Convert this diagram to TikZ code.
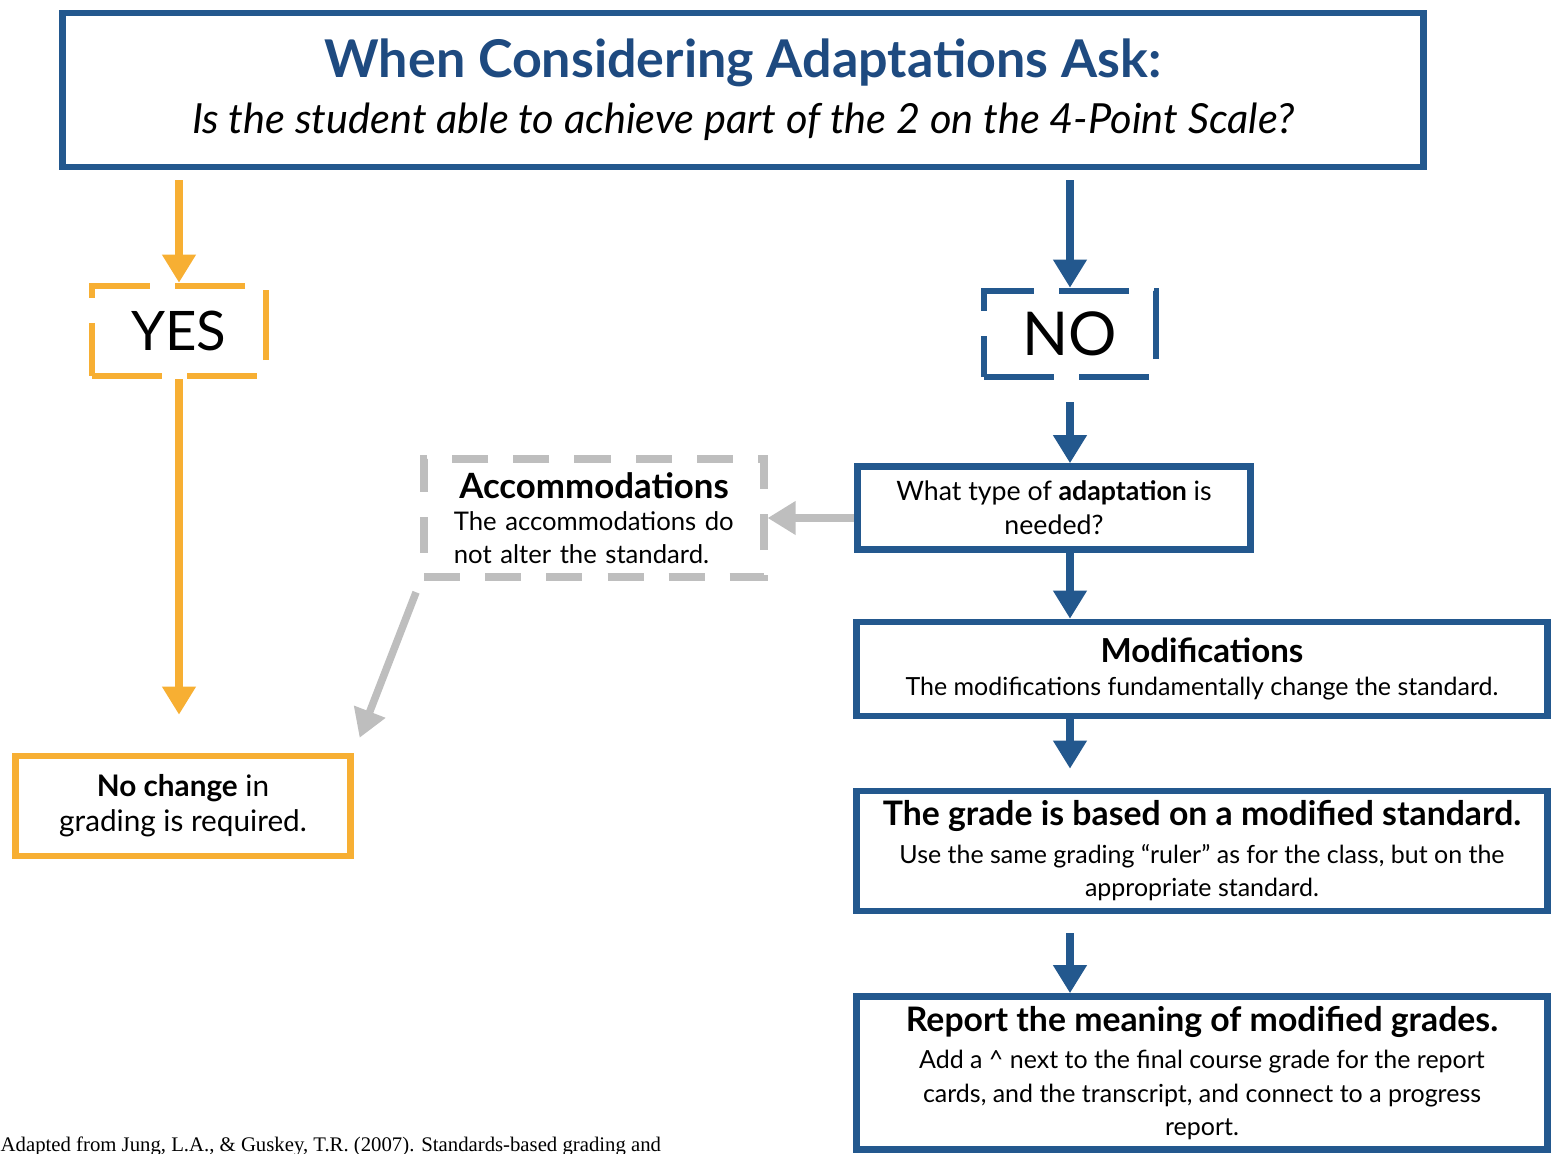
\documentclass[tikz,border=0pt]{standalone}
\usepackage{fontspec}
\setmainfont{Lato}
\newfontfamily\notefont{Liberation Serif}
\usetikzlibrary{arrows.meta}

\definecolor{askblue}{RGB}{35,88,142}
\definecolor{asktitle}{RGB}{30,74,128}
\definecolor{yesorange}{RGB}{247,175,51}
\definecolor{accgray}{RGB}{190,190,190}

\begin{document}
\begin{tikzpicture}[
    x=0.01cm, y=-0.01cm, % one unit = one pixel of the sheet
    solidbox/.style={rectangle,draw=#1,line width=0.065cm,inner sep=0pt,align=center},
    dashbox/.style={rectangle,draw=#1,line width=0.065cm,inner sep=0pt,
        dash pattern=on 0.7cm off 0.25cm},
    flow/.style={draw=#1,line width=0.075cm,-{Triangle[width=0.32cm,length=0.28cm]}},
    answer/.style={font=\fontsize{15.5}{18}\selectfont},
    bodytext/.style={font=\fontsize{7.1}{9.6}\selectfont}
]
    \useasboundingbox (0,0) rectangle (1553,1154);

    % question box
    \node[solidbox=askblue, minimum width=13.6cm, minimum height=1.54cm] (ask) at (743,90)
        {{\color{asktitle}\fontsize{14.8}{17}\selectfont\bfseries When Considering Adaptations Ask:}\\[4pt]
         {\fontsize{11.8}{14}\selectfont\itshape Is the student able to achieve part of the 2 on the 4-Point Scale?}};

    % the two answers
    \node[dashbox=yesorange, answer, minimum width=1.74cm, minimum height=0.9cm] (yes) at (179,331) {YES};
    \node[dashbox=askblue, answer, minimum width=1.72cm, minimum height=0.86cm] (no) at (1070,334)
        {\fontsize{17.2}{18}\selectfont NO};

    % left branch
    \node[solidbox=yesorange, minimum width=3.35cm, minimum height=1.0cm,
        font=\fontsize{8.45}{10}\selectfont] (nochange) at (183,806)
        {\textbf{No change} in\\grading is required.};

    % right branch
    \node[solidbox=askblue, minimum width=3.93cm, minimum height=0.83cm,
        font=\fontsize{7.6}{9.6}\selectfont] (what) at (1054,508)
        {What type of \textbf{adaptation} is\\needed?};
    \node[dashbox=accgray, font=\fontsize{7.3}{9.2}\selectfont, dash pattern=on 0.36cm off 0.25cm, line width=0.08cm,
        minimum width=3.39cm, minimum height=1.18cm, text width=2.8cm, align=left] (accom) at (594,518)
        {\makebox[2.8cm][c]{\fontsize{9.9}{11}\selectfont\bfseries Accommodations}\\
         The accommodations do\\not alter the standard.};
    \node[solidbox=askblue, bodytext, minimum width=6.91cm, minimum height=0.94cm] (mods) at (1202,669)
        {{\fontsize{9.4}{10}\selectfont\bfseries Modifications}\\The modifications fundamentally change the standard.};
    \node[solidbox=askblue, bodytext, minimum width=6.91cm, minimum height=1.2cm] (grade) at (1202,851)
        {{\fontsize{9.6}{10}\selectfont\bfseries The grade is based on a modified standard.}\\[1pt]
         Use the same grading ``ruler'' as for the class, but on the\\appropriate standard.};
    \node[solidbox=askblue, bodytext, minimum width=6.91cm, minimum height=1.53cm] (report) at (1202,1073)
        {{\fontsize{9.6}{10}\selectfont\bfseries Report the meaning of modified grades.}\\[1pt]
         Add a \^{} next to the final course grade for the report\\
         cards, and the transcript, and connect to a progress\\report.};

    % source note
    \node[anchor=base west, inner sep=0pt, font=\notefont\fontsize{5.9}{7}\selectfont] (source) at (0,1151)
        {Adapted from Jung, L.A., \& Guskey, T.R. (2007). Standards-based grading and};

    % connectors
    \draw[flow=yesorange, shorten <=0.1cm] (yes.north |- ask.south) -- (yes.north);
    \draw[flow=yesorange] (yes.south) -- ([yshift=0.38cm]yes.south |- nochange.north);
    \draw[flow=askblue, shorten <=0.1cm] (no.north |- ask.south) -- (no.north);
    \draw[flow=askblue, shorten <=0.22cm] (no.south) -- (no.south |- what.north);
    \draw[flow=askblue] (no.south |- what.south) -- (no.south |- mods.north);
    \draw[flow=askblue, shorten <=-0.06cm] (no.south |- mods.south) -- ([yshift=0.19cm]no.south |- grade.north);
    \draw[flow=askblue, shorten <=0.19cm] (no.south |- grade.south) -- (no.south |- report.north);
    \draw[flow=accgray] (accom.east -| what.west) -- (accom.east);
    \draw[flow=accgray, shorten <=0.12cm, shorten >=0.16cm] (accom.south west) -- (nochange.north east);
\end{tikzpicture}
\end{document}
